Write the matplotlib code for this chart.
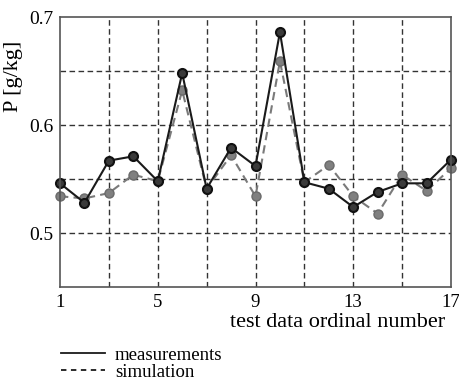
import matplotlib
matplotlib.use("Agg")
import matplotlib.pyplot as plt
from matplotlib.lines import Line2D

plt.rcParams['font.family'] = ['Liberation Serif', 'DejaVu Serif']

x = list(range(1, 18))
measurements = [0.546, 0.528, 0.567, 0.571, 0.548, 0.648, 0.541, 0.579, 0.562,
                0.686, 0.547, 0.541, 0.524, 0.538, 0.546, 0.546, 0.568]
simulation = [0.534, 0.532, 0.537, 0.554, 0.548, 0.632, 0.541, 0.572, 0.534,
              0.659, 0.547, 0.563, 0.534, 0.518, 0.554, 0.539, 0.560]
xticks = [1, 5, 9, 13, 17]
yticks = [0.5, 0.6, 0.7]
xgrid = [3, 5, 7, 9, 11, 13, 15]
ygrid = [0.5, 0.55, 0.6, 0.65]

fig = plt.figure(figsize=(4.59, 3.80), dpi=100)
ax = fig.add_axes([60/459, 1-287/380, (451-60)/459, (287-17)/380])

ax.plot(x, simulation, color='#7a7a7a', lw=1.5, ls=(0, (4, 2.5)), marker='o',
        ms=6.5, mfc='#808080', mec='#6a6a6a', zorder=3, clip_on=False)
ax.plot(x, measurements, color='#1a1a1a', lw=1.5, marker='o',
        ms=6.5, mfc='#3a3a3a', mec='#111111', mew=1.5, zorder=4, clip_on=False)

ax.set_xlim(1, 17)
ax.set_ylim(0.45, 0.7)
ax.xaxis.remove_overlapping_locs = False
ax.yaxis.remove_overlapping_locs = False
ax.set_xticks(xgrid, minor=True)
ax.set_xticks(xticks)
ax.set_yticks(ygrid, minor=True)
ax.set_yticks(yticks)
ax.set_yticklabels(['0.5', '0.6', '0.7'])
ax.grid(True, which='minor', color='#333333', ls=(0, (4, 2.5)), lw=1.0)
ax.grid(False, which='major')
ax.tick_params(which='both', direction='in', length=0, pad=5)
ax.tick_params(axis='y', labelsize=14)
ax.tick_params(axis='x', labelsize=13.5)
for s in ax.spines.values():
    s.set_color('#555555')
    s.set_linewidth(1.2)
    s.set_zorder(5)

ax.set_ylabel('P [g/kg]', fontsize=16)
ax.yaxis.set_label_coords(-0.095, 0.78)
ax.set_xlabel('test data ordinal number', fontsize=16)
ax.xaxis.set_label_coords(0.985, -0.095)
ax.xaxis.label.set_horizontalalignment('right')

handles = [Line2D([], [], color='#1a1a1a', lw=1.3),
           Line2D([], [], color='#1a1a1a', lw=1.3, ls=(0, (3, 2.5)))]
fig.legend(handles, ['measurements', 'simulation'], loc='upper left',
           bbox_to_anchor=(52/459, 1-337/380), frameon=False, fontsize=13.5,
           handlelength=2.3, handletextpad=0.55, labelspacing=0.0, borderpad=0)

fig.savefig('out.png', dpi=100)
